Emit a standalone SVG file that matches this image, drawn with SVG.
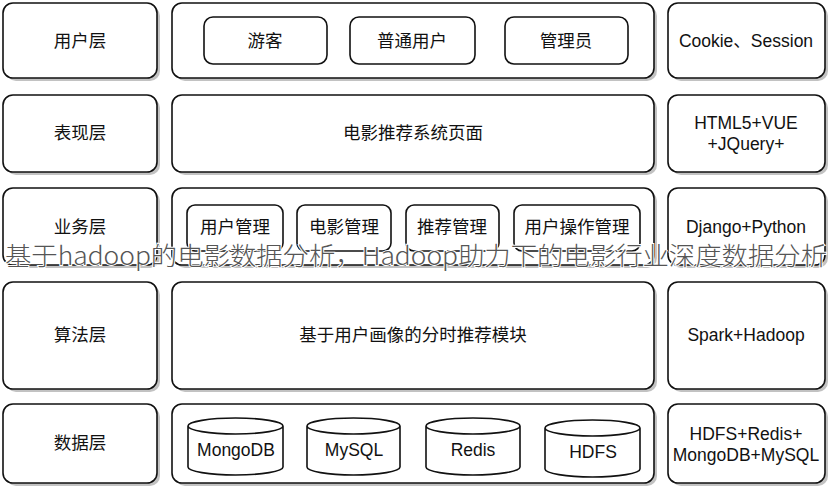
<svg xmlns="http://www.w3.org/2000/svg" width="833" height="490" viewBox="0 0 833 490">
<defs>
<style>
.b{fill:#fff;stroke:#111;stroke-width:1.6}
.s{fill:#999;opacity:.6}
.t{font-family:"Liberation Sans","Noto Sans CJK SC",sans-serif;font-size:17.5px;fill:#111;text-anchor:middle;dominant-baseline:central}
.w{font-family:"Noto Sans CJK SC","Liberation Sans",sans-serif;font-weight:300;font-size:25px;fill:#555;stroke:#fff;stroke-width:2;paint-order:stroke;text-anchor:middle;dominant-baseline:central}
</style>
</defs>
<rect width="833" height="490" fill="#fff"/>
<g id="layers">
<g id="row1">
<rect class="s" x="6" y="6" width="154" height="75" rx="10"/><rect class="b" x="3" y="3" width="154" height="75" rx="10"/><text class="t" x="80" y="41">用户层</text>
<rect class="s" x="175" y="6" width="482" height="75" rx="10"/><rect class="b" x="172" y="3" width="482" height="75" rx="10"/>
<rect class="s" x="671" y="6" width="157" height="75" rx="10"/><rect class="b" x="668" y="3" width="157" height="75" rx="10"/><text class="t" x="746" y="41">Cookie、Session</text>
</g>
<g id="guest"><rect class="b" x="204" y="17" width="123" height="47" rx="9"/><text class="t" x="265" y="41">游客</text></g>
<g id="user"><rect class="b" x="350" y="17" width="125" height="47" rx="9"/><text class="t" x="412" y="41">普通用户</text></g>
<g id="admin"><rect class="b" x="505" y="17" width="123" height="47" rx="9"/><text class="t" x="566" y="41">管理员</text></g>
<g id="row2">
<rect class="s" x="6" y="98" width="154" height="77" rx="10"/><rect class="b" x="3" y="95" width="154" height="77" rx="10"/><text class="t" x="80" y="133">表现层</text>
<rect class="s" x="175" y="98" width="482" height="77" rx="10"/><rect class="b" x="172" y="95" width="482" height="77" rx="10"/><text class="t" x="413" y="133">电影推荐系统页面</text>
<rect class="s" x="671" y="98" width="157" height="77" rx="10"/><rect class="b" x="668" y="95" width="157" height="77" rx="10"/><text class="t" x="746" y="123">HTML5+VUE</text><text class="t" x="746" y="144">+JQuery+</text>
</g>
<g id="row3">
<rect class="s" x="6" y="191" width="154" height="77" rx="10"/><rect class="b" x="3" y="188" width="154" height="77" rx="10"/><text class="t" x="80" y="227">业务层</text>
<rect class="s" x="175" y="191" width="482" height="77" rx="10"/><rect class="b" x="172" y="188" width="482" height="77" rx="10"/>
<rect class="s" x="671" y="191" width="157" height="77" rx="10"/><rect class="b" x="668" y="188" width="157" height="77" rx="10"/><text class="t" x="746" y="227">Django+Python</text>
</g>
<g id="m1"><rect class="b" x="187" y="205" width="96" height="46" rx="8"/><text class="t" x="235" y="227">用户管理</text></g>
<g id="m2"><rect class="b" x="297" y="205" width="94" height="46" rx="8"/><text class="t" x="344" y="227">电影管理</text></g>
<g id="m3"><rect class="b" x="406" y="205" width="93" height="46" rx="8"/><text class="t" x="452" y="227">推荐管理</text></g>
<g id="m4"><rect class="b" x="514" y="205" width="126" height="46" rx="8"/><text class="t" x="577" y="227">用户操作管理</text></g>
<g id="row4">
<rect class="s" x="6" y="285" width="154" height="107" rx="10"/><rect class="b" x="3" y="282" width="154" height="107" rx="10"/><text class="t" x="80" y="335">算法层</text>
<rect class="s" x="175" y="285" width="482" height="107" rx="10"/><rect class="b" x="172" y="282" width="482" height="107" rx="10"/><text class="t" x="413" y="335">基于用户画像的分时推荐模块</text>
<rect class="s" x="671" y="285" width="157" height="107" rx="10"/><rect class="b" x="668" y="282" width="157" height="107" rx="10"/><text class="t" x="746" y="335">Spark+Hadoop</text>
</g>
<g id="row5">
<rect class="s" x="6" y="407" width="154" height="79" rx="10"/><rect class="b" x="3" y="404" width="154" height="79" rx="10"/><text class="t" x="80" y="443">数据层</text>
<rect class="s" x="175" y="407" width="482" height="79" rx="10"/><rect class="b" x="172" y="404" width="482" height="79" rx="10"/>
<rect class="s" x="671" y="407" width="157" height="79" rx="10"/><rect class="b" x="668" y="404" width="157" height="79" rx="10"/><text class="t" x="746" y="434">HDFS+Redis+</text><text class="t" x="746" y="455">MongoDB+MySQL</text>
</g>
<g id="db1"><path class="b" d="M188,426 A47.5,8 0 0 1 283,426 V467 A47.5,8 0 0 1 188,467 Z M188,426 A47.5,8 0 0 0 283,426"/><text class="t" x="236" y="450">MongoDB</text></g>
<g id="db2"><path class="b" d="M307,426 A46.5,8 0 0 1 400,426 V467 A46.5,8 0 0 1 307,467 Z M307,426 A46.5,8 0 0 0 400,426"/><text class="t" x="354" y="450">MySQL</text></g>
<g id="db3"><path class="b" d="M426,426 A47,8 0 0 1 520,426 V467 A47,8 0 0 1 426,467 Z M426,426 A47,8 0 0 0 520,426"/><text class="t" x="473" y="450">Redis</text></g>
<g id="db4"><path class="b" d="M545,428 A47.5,8 0 0 1 640,428 V469 A47.5,8 0 0 1 545,469 Z M545,428 A47.5,8 0 0 0 640,428"/><text class="t" x="593" y="452">HDFS</text></g>
</g>
<g id="connectors"></g>
<text class="w" x="416" y="254" textLength="822" lengthAdjust="spacingAndGlyphs">基于hadoop的电影数据分析，Hadoop助力下的电影行业深度数据分析</text>
</svg>
